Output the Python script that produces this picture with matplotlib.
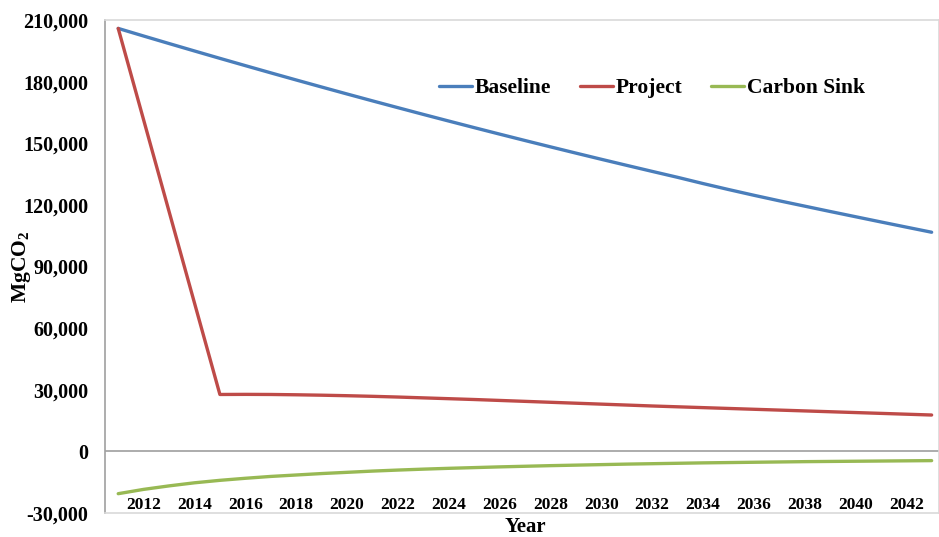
import matplotlib
matplotlib.use('Agg')
import matplotlib.pyplot as plt
from matplotlib.ticker import FuncFormatter

plt.rcParams['font.family'] = ['Liberation Serif', 'DejaVu Serif']
plt.rcParams['font.weight'] = 'bold'
plt.rcParams['mathtext.fontset'] = 'custom'
plt.rcParams['mathtext.rm'] = 'Liberation Serif:bold'
plt.rcParams['mathtext.it'] = 'Liberation Serif:bold'
plt.rcParams['mathtext.bf'] = 'Liberation Serif:bold'

years = list(range(2011, 2044))

# MgCO2 per year
baseline = [205900, 202200, 198540, 194920, 191330, 187790, 184280, 180810,
            177380, 173990, 170640, 167330, 164050, 160820, 157620, 154460,
            151340, 148260, 145220, 142210, 139250, 136320, 133430, 130400,
            127500, 124700, 122000, 119400, 116800, 114250, 111700, 109180,
            106680]
project = [205900, 161350, 116800, 72250, 27700, 27750, 27700, 27550,
           27350, 27100, 26800, 26450, 26050, 25650, 25250, 24800,
           24350, 23900, 23450, 23000, 22550, 22100, 21700, 21300,
           20900, 20500, 20100, 19700, 19300, 18900, 18500, 18100,
           17700]
carbon_sink = [-20600, -18500, -16800, -15300, -14100, -13100, -12200, -11500,
               -10800, -10200, -9600, -9100, -8650, -8250, -7900, -7550,
               -7250, -6950, -6700, -6450, -6200, -6000, -5800, -5600,
               -5450, -5300, -5150, -5000, -4900, -4800, -4700, -4600,
               -4500]

tick_years = list(range(2012, 2043, 2))
y_ticks = list(range(-30000, 210001, 30000))

fig = plt.figure(figsize=(9.39, 5.37), dpi=100)
ax = fig.add_axes([105 / 939, 1 - 513 / 537, 834 / 939, 493 / 537])

ax.plot(years, baseline, color='#4A7EBB', lw=2.4, label='Baseline', solid_capstyle='round')
ax.plot(years, project, color='#BE4B48', lw=2.4, label='Project', solid_capstyle='round')
ax.plot(years, carbon_sink, color='#98B954', lw=2.4, label='Carbon Sink', solid_capstyle='round')
ax.axhline(0, color='#A6A6A6', lw=1.3, zorder=1)

ax.set_xlim(2010.48, 2043.29)
ax.set_ylim(-30000, 210000)
ax.set_yticks(y_ticks)
ax.yaxis.set_major_formatter(FuncFormatter(lambda v, p: '{:,.0f}'.format(v)))
ax.set_xticks(tick_years)
ax.set_xticklabels([str(y) for y in tick_years])

ax.tick_params(axis='y', length=0, pad=12, labelsize=14.5)
ax.tick_params(axis='x', length=0, pad=-11.5, labelsize=12.5)
for lbl in ax.get_xticklabels() + ax.get_yticklabels():
    lbl.set_fontweight('bold')

for side in ['top', 'right', 'bottom']:
    ax.spines[side].set_color('#D9D9D9')
    ax.spines[side].set_linewidth(1.2)
ax.spines['left'].set_color('#A0A0A0')
ax.spines['left'].set_linewidth(1.2)

ax.set_ylabel('MgCO$_2$', fontsize=15.5, fontweight='bold')
ax.yaxis.set_label_coords(-0.086, 0.5)
ax.set_xlabel('Year', fontsize=15, fontweight='bold')
ax.xaxis.set_label_coords(0.504, -0.008)

leg = ax.legend(loc='center', bbox_to_anchor=(652 / 939, 1 - 88 / 537),
                bbox_transform=fig.transFigure, ncol=3, frameon=False,
                handlelength=1.55, handletextpad=0.15,
                columnspacing=1.3, prop={'weight': 'bold', 'size': 15.5})

fig.savefig('out.png', dpi=100)
